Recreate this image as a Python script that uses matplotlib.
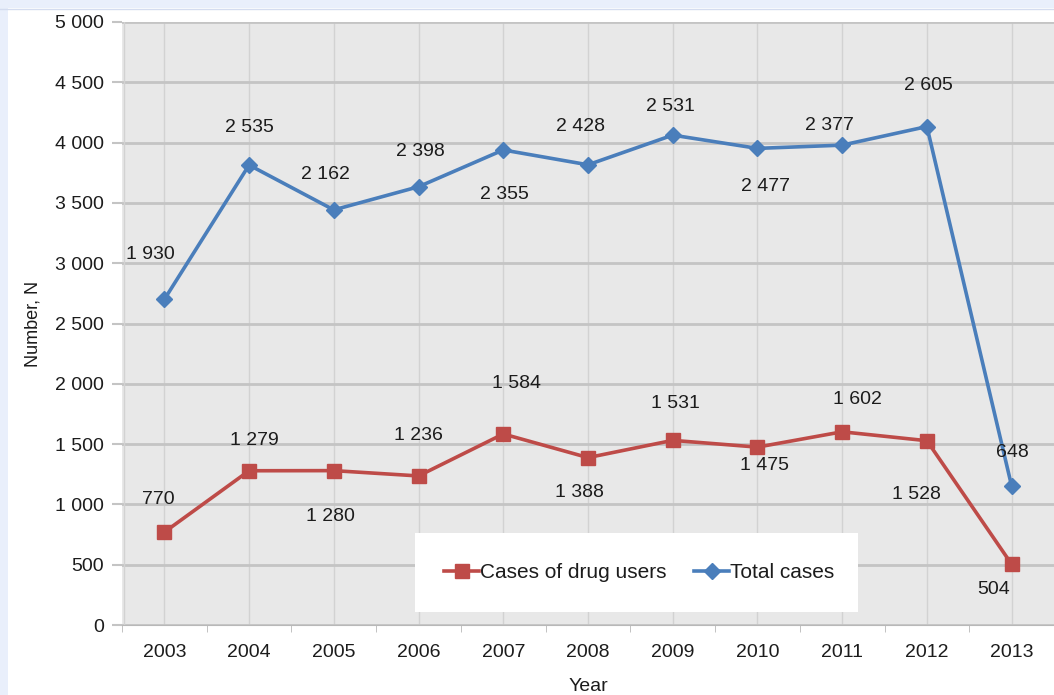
import numpy as np
import matplotlib
matplotlib.use('Agg')
import matplotlib.pyplot as plt
from matplotlib.patches import Rectangle
from matplotlib.ticker import FuncFormatter

years = ['2003', '2004', '2005', '2006', '2007', '2008', '2009', '2010', '2011', '2012', '2013']
drug_users = [770, 1279, 1280, 1236, 1584, 1388, 1531, 1475, 1602, 1528, 504]
other_cases = [1930, 2535, 2162, 2398, 2355, 2428, 2531, 2477, 2377, 2605, 648]

# label offsets in pixels (dx, dy)
red_off = [(-6, 33), (5, 30), (-3, -46), (0, 40), (13, 50), (-9, -35), (3, 37), (7, -18), (15, 32), (-10, -54), (-18, -25)]
blue_off = [(-14, 45), (0, 38), (-8, 35), (2, 35), (1, -45), (-7, 38), (-2, 29), (8, -38), (-13, 20), (2, 41), (1, 34)]

plt.rcParams['font.family'] = ['Liberation Sans', 'DejaVu Sans']
txt = '#1c1c1c'

fig = plt.figure(figsize=(10.54, 6.95), dpi=100)
# light blue page strip at the top and left
fig.patches.append(Rectangle((0, 1 - 8 / 695), 1, 8 / 695, transform=fig.transFigure,
                             facecolor='#e9effb', edgecolor='none', zorder=0))
fig.patches.append(Rectangle((0, 0), 8 / 1054, 1, transform=fig.transFigure,
                             facecolor='#e9effb', edgecolor='none', zorder=0))
fig.lines.append(plt.Line2D([0, 1], [1 - 8.5 / 695] * 2, transform=fig.transFigure,
                            color='#d4dcef', lw=1))

ax = fig.add_axes([122 / 1054, 1 - 625 / 695, 932 / 1054, 603 / 695])
ax.set_facecolor('#e8e8e8')

x = np.arange(len(years))
drug = np.array(drug_users)
total = drug + np.array(other_cases)

ax.plot(x, drug, color='#be4b48', lw=2.6, marker='s', markersize=10, label='Cases of drug users', zorder=4)
ax.plot(x, total, color='#4a7ebb', lw=2.6, marker='D', markersize=8, label='Total cases', zorder=4)

fmt = lambda v: '{:,}'.format(int(v)).replace(',', ' ')
for i in x:
    ax.annotate(fmt(drug_users[i]), (i, drug[i]), xytext=red_off[i], textcoords='offset pixels',
                ha='center', va='center', fontsize=14, color=txt, zorder=5)
    ax.annotate(fmt(other_cases[i]), (i, total[i]), xytext=blue_off[i], textcoords='offset pixels',
                ha='center', va='center', fontsize=14, color=txt, zorder=5)

ax.set_xlim(-0.48, 10.5)
ax.set_ylim(0, 5000)
ax.set_yticks(np.arange(0, 5001, 500))
ax.yaxis.set_major_formatter(FuncFormatter(lambda v, p: fmt(v)))
ax.set_xticks(x)
ax.set_xticklabels(years)
ax.set_xticks(np.arange(-0.5, 10.6, 1), minor=True)

ax.grid(axis='y', color='#c4c4c4', lw=2, zorder=1)
ax.grid(axis='x', which='major', color='#d2d2d2', lw=1, zorder=1)
ax.set_axisbelow(True)
ax.axvline(-0.48, color='#d2d2d2', lw=1, zorder=1)

for s in ['top', 'right', 'left']:
    ax.spines[s].set_visible(False)
ax.spines['bottom'].set_color('#b8b8b8')
ax.tick_params(axis='x', which='major', length=0, pad=14, labelsize=14, labelcolor=txt)
ax.tick_params(axis='x', which='minor', length=5, color='#b8b8b8')
ax.tick_params(axis='y', length=7, width=1.5, color='#c4c4c4', pad=6, labelsize=14, labelcolor=txt)

ax.set_ylabel('Number, N', fontsize=13, color=txt, labelpad=10)
ax.set_xlabel('Year', fontsize=14, color=txt, labelpad=12)

# white legend box
ax.add_patch(Rectangle((0.314, 0.0216), 0.476, 0.131, transform=ax.transAxes,
                       facecolor='white', edgecolor='none', zorder=6))
leg = ax.legend(loc='center', bbox_to_anchor=(0.555, 0.087), ncol=2, frameon=False,
                fontsize=15, handlelength=1.7, handletextpad=0.05, columnspacing=1.3)
leg.set_zorder(7)
for t in leg.get_texts():
    t.set_color(txt)

fig.savefig('out.png', dpi=100)
